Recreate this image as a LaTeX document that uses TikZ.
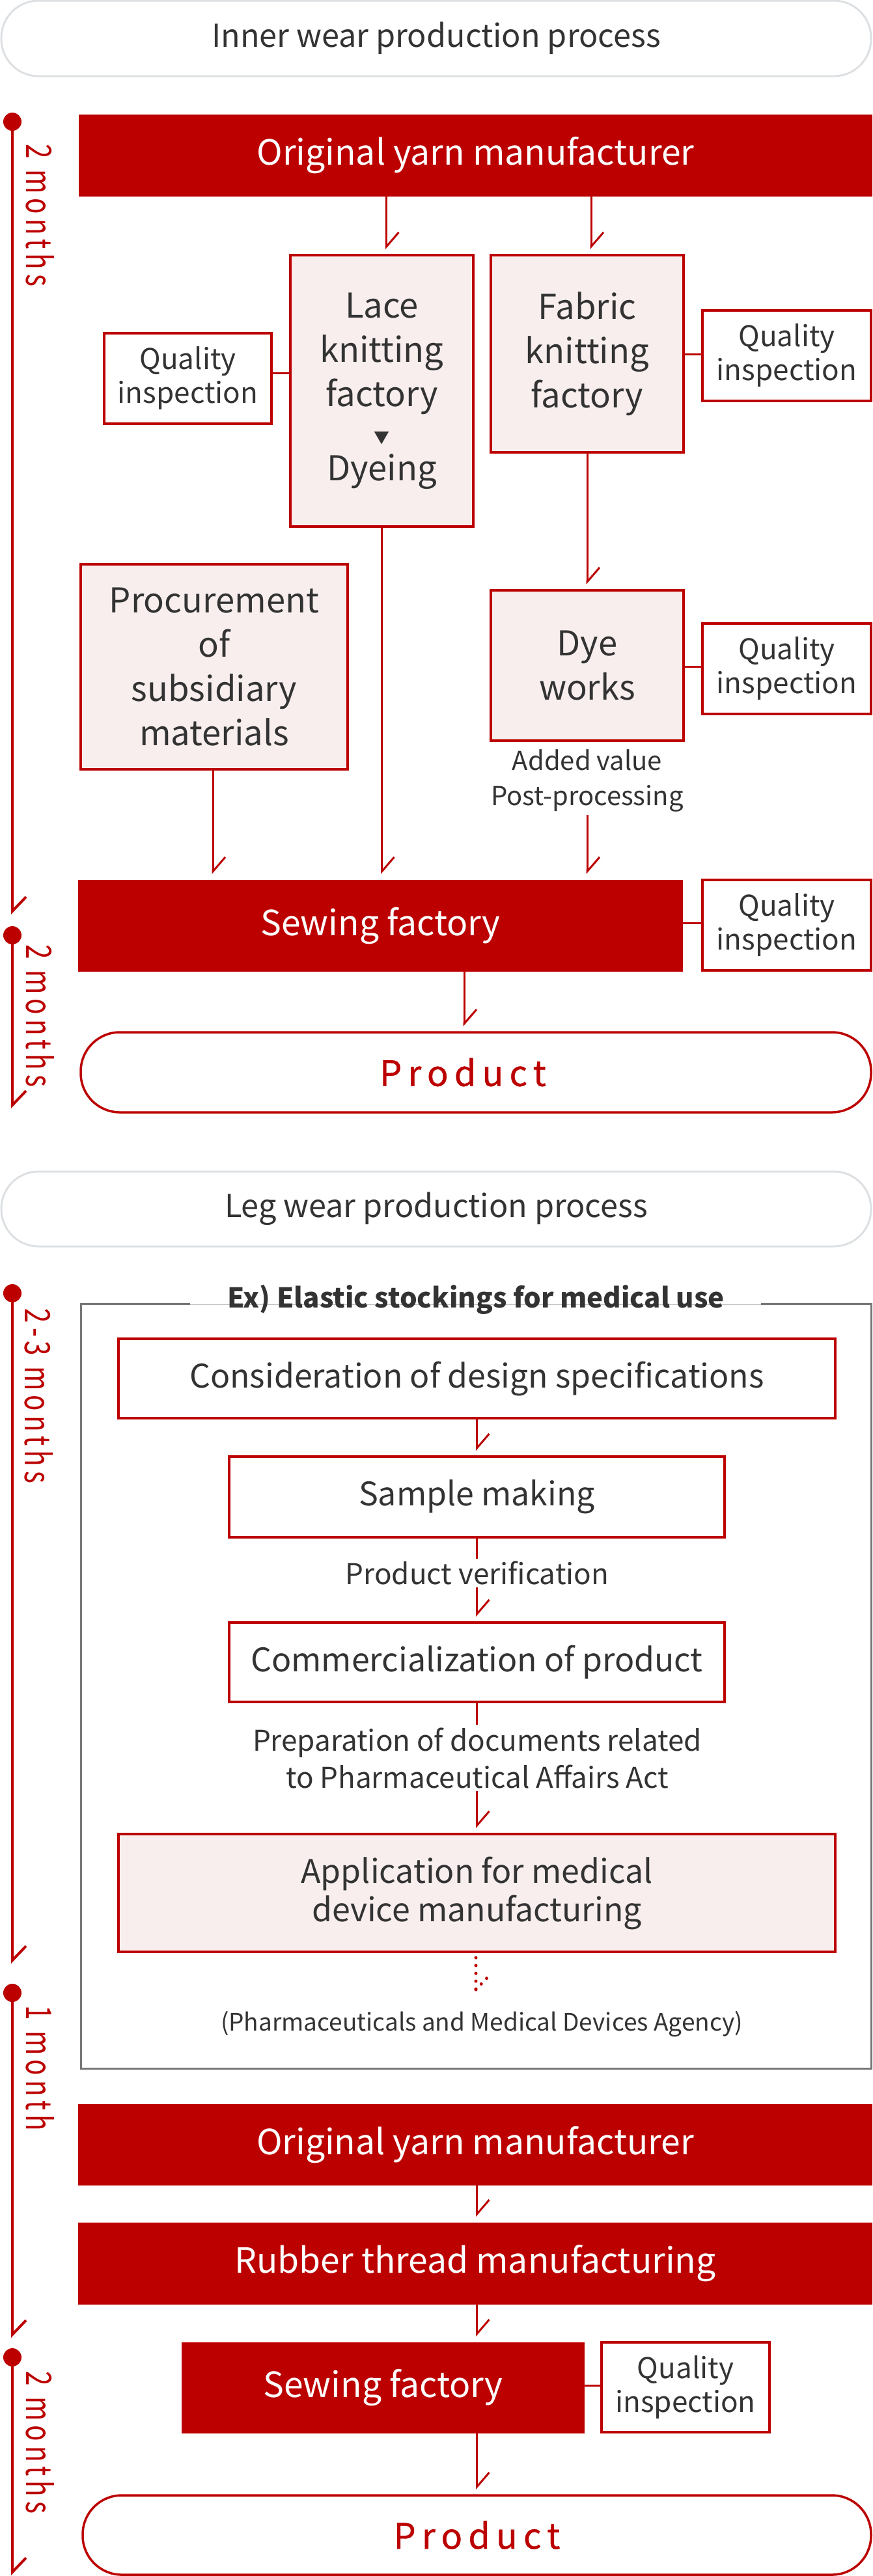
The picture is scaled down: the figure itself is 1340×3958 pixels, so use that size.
\documentclass[tikz,border=0pt]{standalone}
\usepackage{fontspec}
\setmainfont{Noto Sans CJK JP}
\usetikzlibrary{arrows.meta,calc}
\definecolor{brand}{HTML}{BC0000}
\definecolor{pinkbg}{HTML}{F8EEEE}
\definecolor{pillgray}{HTML}{DDE0E3}
\definecolor{exgray}{HTML}{777777}
\definecolor{ink}{HTML}{333333}
\newcommand{\fsz}[2]{\fontsize{#1}{#2}\selectfont}
\begin{document}
\begin{tikzpicture}[x=0.5pt,y=-0.5pt,
  wh/.style 2 args={minimum width=#1*0.5pt, minimum height=#2*0.5pt},
  base/.style={inner sep=0pt, outer sep=0pt, align=center, text=ink},
  solidbox/.style={base, fill=brand, text=white, font=\fsz{26.7}{34}},
  pinkbox/.style={base, fill=pinkbg, draw=brand, line width=2pt, font=\fsz{26.3}{34}},
  qibox/.style={base, fill=white, draw=brand, line width=2pt, font=\fsz{22}{26}},
  stepbox/.style={base, fill=white, draw=brand, line width=2pt, font=\fsz{25}{29.5}},
  appbox/.style={stepbox, fill=pinkbg},
  headpill/.style={base, draw=pillgray, line width=1.5pt, rounded corners=28.5pt, font=\fsz{24.3}{30}},
  prodpill/.style={base, fill=white, draw=brand, line width=1.75pt, rounded corners=30pt, text=brand, font=\fsz{27}{30}\addfontfeature{LetterSpace=17,FakeBold=0.6}},
  note/.style={base, fill=white, inner sep=2pt, font=\fsz{20}{27}},
  link/.style={draw=brand, line width=1.5pt},
  arr/.style={link, -{Straight Barb[harpoon, length=11pt, width=19pt]}, shorten >=4.5pt},
  tline/.style={draw=brand, line width=2pt, -{Straight Barb[harpoon, length=11pt, width=21pt]}},
  tdot/.style={circle, fill=brand, inner sep=0pt, minimum size=14pt},
  tlabel/.style={rotate=-90, inner sep=0pt, text=brand, font=\fsz{27}{30}\addfontfeature{LetterSpace=17}},
  dotl/.style={draw=brand, line width=2.5pt, line cap=round, dash pattern=on 0pt off 6pt}
]
\useasboundingbox (0,0) rectangle (1340,3958);

% ---------- Inner wear ----------
\node[headpill, wh={1336}{116}] (head1) at (670,59) {Inner wear production process};
\node[solidbox, wh={1219}{126}] (yarn1) at (730.5,239) {Original yarn manufacturer};
\node[pinkbox, wh={281}{417}] (lace) at (586.5,600.5) {Lace\\knitting\\factory\\[-5.5pt]{\fsz{12}{12}▼}\\[-5.5pt]Dyeing};
\node[pinkbox, wh={296}{303}] (fabric) at (902,543.5) {Fabric\\knitting\\factory};
\node[qibox, wh={257}{139}] (qiL) at (288.5,581.5) {Quality\\inspection};
\node[qibox, wh={259}{139}] (qiF) at (1208.5,546.5) {Quality\\inspection};
\node[pinkbox, wh={296}{231}] (dye) at (902,1022.5) {Dye\\works};
\node[qibox, wh={259}{139}] (qiD) at (1208.5,1027.5) {Quality\\inspection};
\node[note] (addval) at (902,1200) {Added value\\Post-processing};
\node[pinkbox, wh={410}{315}] (proc) at (329,1024.5) {Procurement\\of\\subsidiary\\materials};
\node[solidbox, wh={929}{141}] (sew1) at (584.5,1422.5) {Sewing factory};
\node[qibox, wh={259}{139}] (qiS) at (1208.5,1421.5) {Quality\\inspection};
\node[prodpill, wh={1214}{123}] (prod1) at (731,1647.5) {Product\hspace{20pt}};

\draw[arr] ($(lace.north|-yarn1.south)+(7,0)$) -- ($(lace.north)+(7,0)$);
\draw[arr] ($(fabric.north|-yarn1.south)+(6,0)$) -- ($(fabric.north)+(6,0)$);
\draw[link] ($(qiL.east)+(0,-8.5)$) -- ($(qiL.east -| lace.west)+(0,-8.5)$);
\draw[link] ($(qiF.west)+(0,-2.5)$) -- ($(qiF.west -| fabric.east)+(0,-2.5)$);
\draw[arr] (fabric.south) -- (dye.north);
\draw[link] ($(qiD.west)+(0,-3.5)$) -- ($(qiD.west -| dye.east)+(0,-3.5)$);
\draw[arr] (addval.south) -- (addval.south |- sew1.north);
\draw[arr] ($(proc.south)+(-2,0)$) -- ($(proc.south |- sew1.north)+(-2,0)$);
\draw[arr] (lace.south) -- (lace.south |- sew1.north);
\draw[link] ($(qiS.west)+(0,-3.5)$) -- ($(qiS.west -| sew1.east)+(0,-3.5)$);
\draw[arr] ($(sew1.south)+(128.5,0)$) -- ($(prod1.north)+(-18,0)$);

% ---------- Leg wear ----------
\node[headpill, wh={1336}{115}] (head2) at (670,1857.5) {Leg wear production process};
\node[base, wh={1214}{1175}] (exbox) at (731,2590.5) {};
\draw[exgray, line width=1.5pt] ($(exbox.north west)+(168,0)$) -- (exbox.north west) -- (exbox.south west) -- (exbox.south east) -- (exbox.north east) -- ($(exbox.north east)+(-169,0)$);
\draw[exgray!45, line width=0.5pt] ($(exbox.north west)+(168,1)$) -- ($(exbox.north east)+(-169,1)$);
\node[base, font=\fsz{21}{25}\bfseries] (extitle) at (731,1997) {Ex) Elastic stockings for medical use};

\node[stepbox, wh={1101}{122}] (cons) at (732.5,2118) {Consideration of design specifications};
\node[stepbox, wh={761}{124}] (sample) at (732.5,2300) {Sample making};
\node[stepbox, wh={761}{122}] (comm) at (732.5,2554) {Commercialization of product};
\node[appbox, wh={1101}{181}] (app) at (732.5,2908.5) {Application for medical\\device manufacturing};

\draw[arr] (cons.south) -- (sample.north);
\draw[arr] (sample.south) -- (comm.north);
\draw[arr] (comm.south) -- (app.north);
\node[note, font=\fsz{22}{24}] (pv) at (733,2417) {Product verification};
\node[note, font=\fsz{22}{28.5}] (prep) at (733,2701) {Preparation of documents related\\to Pharmaceutical Affairs Act};

\coordinate (dtip) at (731,3057);
\draw[dotl] ($(app.south)+(-1.5,9)$) -- (dtip);
\draw[dotl] (dtip) -- ++(18,-19);
\node[base, font=\fsz{18.5}{24}] (pmda) at (740,3110) {(Pharmaceuticals and Medical Devices Agency)};

\node[solidbox, wh={1220}{125}] (yarn2) at (730,3295.5) {Original yarn manufacturer};
\node[solidbox, wh={1220}{126}] (rubber) at (730,3478) {Rubber thread manufacturing};
\node[solidbox, wh={619}{140}] (sew2) at (588.5,3669) {Sewing factory};
\node[qibox, wh={258}{138}] (qiS2) at (1053,3668) {Quality\\inspection};
\node[prodpill, wh={1211}{122}] (prod2) at (732.5,3895) {Product};

\draw[arr] (prod2.north |- yarn2.south) -- (prod2.north |- rubber.north);
\draw[arr] (prod2.north |- rubber.south) -- (prod2.north |- sew2.north);
\draw[arr] (prod2.north |- sew2.south) -- (prod2.north);
\draw[link] ($(qiS2.west)+(0,-3)$) -- ($(qiS2.west -| sew2.east)+(0,-3)$);

% ---------- Timelines ----------
\node[tdot] (d1) at (19,187) {};
\coordinate (e1) at (19,1405);
\draw[tline] (d1.center) -- (e1);
\node[tlabel] (l1) at (62,331) {\scalebox{0.75}[1]{2 months}};

\node[tdot] (d2) at (19,1437) {};
\coordinate (e2) at (19,1703);
\draw[tline] (d2.center) -- (e2);
\node[tlabel] (l2) at (62,1561) {\scalebox{0.75}[1]{2 months}};

\node[tdot] (d3) at (19,1987) {};
\coordinate (e3) at (19,3017);
\draw[tline] (d3.center) -- (e3);
\node[tlabel] (l3) at (60,2145) {\scalebox{0.75}[1]{2-3 months}};

\node[tdot] (d4) at (19,3062) {};
\coordinate (e4) at (19,3592);
\draw[tline] (d4.center) -- (e4);
\node[tlabel] (l4) at (62,3178) {\scalebox{0.75}[1]{1 month}};

\node[tdot] (d5) at (19,3622) {};
\coordinate (e5) at (19,3957);
\draw[tline] (d5.center) -- (e5);
\node[tlabel] (l5) at (62,3753) {\scalebox{0.75}[1]{2 months}};
\end{tikzpicture}
\end{document}
